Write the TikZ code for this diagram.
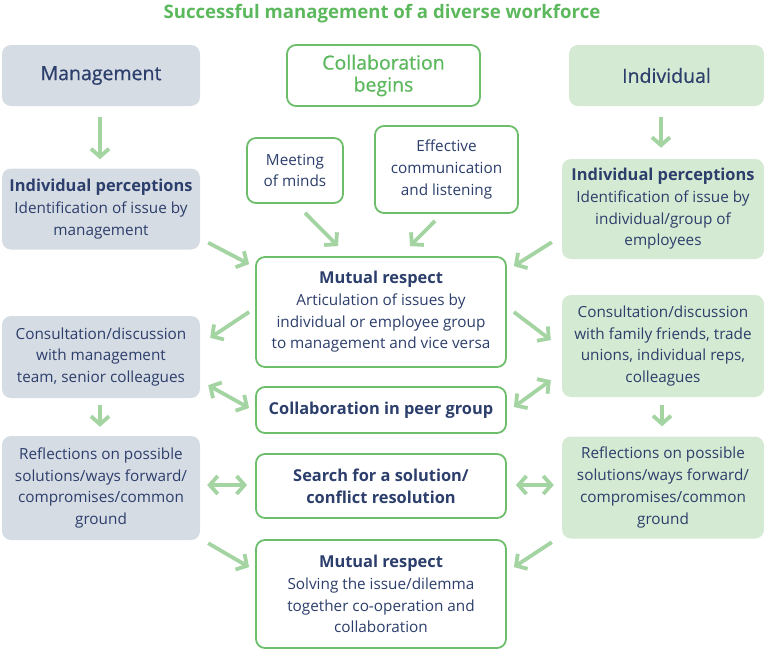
\documentclass[tikz,border=0pt]{standalone}
\usepackage{fontspec}
\setmainfont{Open Sans}
\newfontfamily\headfont[FakeBold=0.6]{Open Sans}
\usetikzlibrary{arrows.meta,calc}
\definecolor{navy}{HTML}{2C3E6B}
\definecolor{titlegreen}{HTML}{5CB85C}
\definecolor{bordergreen}{HTML}{6DBE6B}
\definecolor{arrowgreen}{HTML}{A5D4A3}
\definecolor{grayfill}{HTML}{D6DCE4}
\definecolor{lightgreen}{HTML}{D4EAD2}
\newcommand\bt[1]{{\fontsize{16.4}{21.7}\selectfont\bfseries #1}}
\tikzset{myhead/.tip={Straight Barb[length=8pt,width=18pt]}}
\begin{document}
\begin{tikzpicture}[x=1pt,y=-1pt,
 box/.style={rounded corners=9pt, align=center, text=navy, inner sep=0pt, font=\fontsize{15.3}{21.7}\selectfont},
 gbox/.style={box, fill=grayfill},
 lbox/.style={box, fill=lightgreen},
 wbox/.style={box, draw=bordergreen, line width=1.8pt, fill=white},
 head/.style={font=\headfont\fontsize{19.5}{22}\selectfont},
 arr/.style={draw=arrowgreen, line width=3.8pt, -myhead},
 darr/.style={draw=arrowgreen, line width=3.8pt, myhead-myhead},
]
\useasboundingbox (0,0) rectangle (764,654);

\node[font=\fontsize{18.6}{20}\selectfont\bfseries, text=titlegreen] (title) at (382,13.5) {Successful management of a diverse workforce};

\node[gbox, head, minimum width=198pt, minimum height=61pt] (mgmt) at (101,75.5) {Management};
\node[wbox, head, text=titlegreen, minimum width=193pt, minimum height=61pt] (collab) at (383.5,75.5) {Collaboration\\begins};
\node[lbox, head, minimum width=195pt, minimum height=61pt] (indiv) at (666.5,75.5) {Individual};

\node[gbox, minimum width=198pt, minimum height=81pt] (lip) at (101,209) {\bt{Individual perceptions}\\Identification of issue by\\management};
\node[wbox, minimum width=96pt, minimum height=65pt] (meet) at (295,170.5) {Meeting\\of minds};
\node[wbox, minimum width=143pt, minimum height=87pt] (eff) at (446.5,169.5) {Effective\\communication\\and listening};
\node[lbox, minimum width=202pt, minimum height=100pt] (rip) at (663,209) {\bt{Individual perceptions}\\Identification of issue by\\individual/group of\\employees};

\node[wbox, minimum width=250pt, minimum height=110pt] (mut1) at (381,312) {\bt{Mutual respect}\\Articulation of issues by\\individual or employee group\\to management and vice versa};
\node[gbox, minimum width=198pt, minimum height=82pt] (lcon) at (101,357) {Consultation/discussion\\with management\\team, senior colleagues};
\node[lbox, minimum width=202pt, minimum height=102pt] (rcon) at (663,346) {Consultation/discussion\\with family friends, trade\\unions, individual reps,\\colleagues};

\node[wbox, minimum width=250pt, minimum height=46pt] (peer) at (381,410) {\bt{Collaboration in peer group}};

\node[gbox, minimum width=198pt, minimum height=104pt] (lref) at (101,488) {Reflections on possible\\solutions/ways forward/\\compromises/common\\ground};
\node[wbox, minimum width=250pt, minimum height=64pt] (search) at (381,486) {\bt{Search for a solution/}\\\bt{conflict resolution}};
\node[lbox, minimum width=202pt, minimum height=102pt] (rref) at (663,487.5) {Reflections on possible\\solutions/ways forward/\\compromises/common\\ground};

\node[wbox, minimum width=250pt, minimum height=108pt] (mut2) at (381,594) {\bt{Mutual respect}\\Solving the issue/dilemma\\together co-operation and\\collaboration};

% arrows
\draw[arr] ($(mgmt.south)+(-1,11)$) -- ($(lip.north)+(-1,-9)$);
\draw[arr] ($(indiv.south -| rip.north)+(-2,11)$) -- ($(rip.north)+(-2,-11)$);
\draw[arr] ($(meet.south)+(10,9)$) -- ($(mut1.north)+(-43,-10)$);
\draw[arr] ($(eff.south)+(-11.5,7)$) -- ($(mut1.north)+(29,-10)$);
\draw[arr] ($(lip.south east)+(8,-7)$) -- ($(mut1.north west)+(-6,8)$);
\draw[arr] ($(rip.south west)+(-10,-17)$) -- ($(mut1.north east)+(7,10)$);
\draw[arr] ($(mut1.west)+(-6,0)$) -- ($(lcon.north east)+(10,22)$);
\draw[arr] ($(mut1.east)+(7,0)$) -- ($(rcon.west)+(-11,-6)$);
\draw[darr] ($(lcon.south east)+(8,-13)$) -- ($(peer.west)+(-6,-2)$);
\draw[darr] ($(rcon.south west)+(-11,-17)$) -- ($(peer.east)+(7,-3)$);
\draw[arr] ($(lcon.south)+(-1,7)$) -- ($(lref.north)+(-1,-9)$);
\draw[arr] ($(rcon.south)+(-1,8)$) -- ($(rref.north)+(-1,-10)$);
\draw[darr] ($(lref.east)+(7,-3)$) -- ($(search.west)+(-8,-1)$);
\draw[darr] ($(search.east)+(9,-1)$) -- ($(rref.west)+(-8,-2.5)$);
\draw[arr] ($(lref.south east)+(8,3)$) -- ($(mut2.north west)+(-6,28)$);
\draw[arr] ($(rref.south west)+(-10,3.5)$) -- ($(mut2.north east)+(7,28)$);
\end{tikzpicture}
\end{document}
